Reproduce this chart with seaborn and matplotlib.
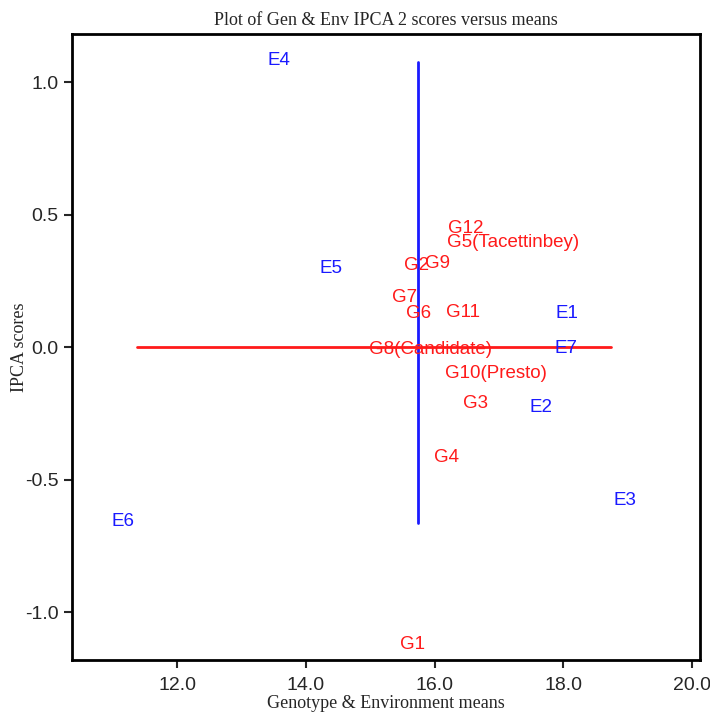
import matplotlib
matplotlib.use('Agg')
import matplotlib.pyplot as plt
import pandas as pd
import seaborn as sns

# Genotype labels, means and IPCA 2 scores
gen_labels = ['G1', 'G2', 'G3', 'G4', 'G5(Tacettinbey)', 'G6', 'G7',
              'G8(Candidate)', 'G9', 'G10(Presto)', 'G11', 'G12']
gen_means = [15.65, 15.72, 16.64, 16.18, 17.22, 15.75, 15.54,
             15.94, 16.05, 16.95, 16.44, 16.49]
gen_ipca = [-1.121, 0.309, -0.211, -0.415, 0.396, 0.128, 0.189,
            -0.008, 0.317, -0.098, 0.132, 0.449]

# Environment labels, means and IPCA 2 scores
env_labels = ['E1', 'E2', 'E3', 'E4', 'E5', 'E6', 'E7']
env_means = [18.06, 17.65, 18.96, 13.58, 14.39, 11.15, 18.04]
env_ipca = [0.128, -0.226, -0.577, 1.083, 0.298, -0.660, -0.004]

# Reference lines: grand mean (vertical) and zero score (horizontal)
grand_mean = 15.75
vline_y = [-0.664, 1.075]
hline_x = [11.37, 18.74]

x_ticks = [12.0, 14.0, 16.0, 18.0, 20.0]
y_ticks = [-1.0, -0.5, 0.0, 0.5, 1.0]

sns.set_style('ticks')
plt.rcParams['font.family'] = ['Liberation Sans', 'DejaVu Sans']

fig = plt.figure(figsize=(7.1, 7.14), dpi=100)
ax = fig.add_axes([0.1014, 0.0756, 0.8846, 0.8764])

red = '#ff1a1a'
blue = '#1a1aff'

vline = pd.DataFrame({'x': [grand_mean, grand_mean], 'y': vline_y})
hline = pd.DataFrame({'x': hline_x, 'y': [0.0, 0.0]})
sns.lineplot(data=vline, x='x', y='y', color=blue, linewidth=2, ax=ax,
             sort=False, estimator=None)
sns.lineplot(data=hline, x='x', y='y', color=red, linewidth=2, ax=ax,
             sort=False, estimator=None)

for lab, x, y in zip(gen_labels, gen_means, gen_ipca):
    ax.text(x, y, lab, color=red, fontsize=13.5, ha='center', va='center')
for lab, x, y in zip(env_labels, env_means, env_ipca):
    ax.text(x, y, lab, color=blue, fontsize=13.5, ha='center', va='center')

ax.set_xlim(10.36, 20.13)
ax.set_ylim(-1.181, 1.181)
ax.set_xticks(x_ticks)
ax.set_xticklabels(['%.1f' % t for t in x_ticks])
ax.set_yticks(y_ticks)
ax.set_yticklabels(['%.1f' % t for t in y_ticks])
ax.tick_params(axis='both', labelsize=14, length=6, width=1.5, direction='out')
ax.tick_params(axis='x', pad=6)

for sp in ax.spines.values():
    sp.set_visible(True)
    sp.set_linewidth(2)
    sp.set_color('black')

serif = ['Liberation Serif', 'DejaVu Serif']
ax.set_title('Plot of Gen & Env IPCA 2 scores versus means',
             family=serif, fontsize=13, pad=6.5)
ax.set_xlabel('Genotype & Environment means', family=serif, fontsize=13,
              labelpad=1)
ax.set_ylabel('IPCA scores', family=serif, fontsize=13, labelpad=-2)

fig.savefig('out.png', dpi=100)
